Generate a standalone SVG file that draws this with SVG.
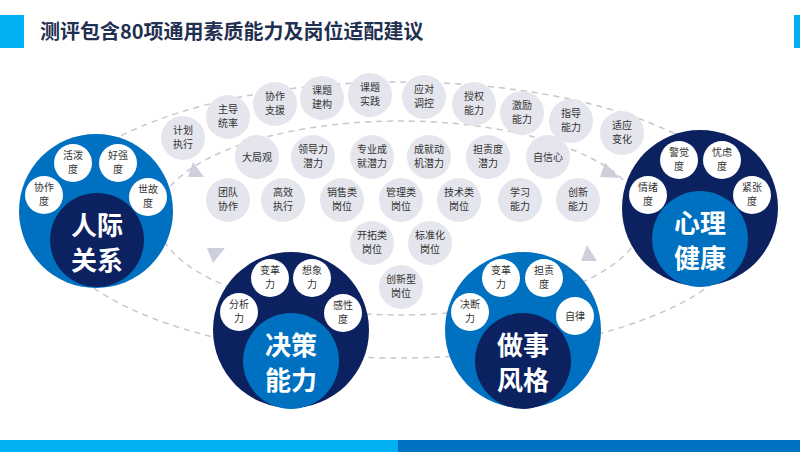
<svg xmlns="http://www.w3.org/2000/svg" width="800" height="452" viewBox="0 0 800 452">
<style>
text{font-family:"Noto Sans CJK SC","Liberation Sans",sans-serif;text-anchor:middle}
.b{fill:#e5e5ed}
.bt{font-size:10px;fill:#333}
.w{fill:#fff}
.wt{font-size:10px;fill:#333}
.big{font-size:26px;font-weight:bold;fill:#fff}
.d{fill:none;stroke:#c8c8cc;stroke-width:1.5;stroke-dasharray:6 5}
.ar{fill:#cdd0dc}
</style>
<rect width="800" height="452" fill="#fff"/>
<rect x="0" y="15" width="24" height="33" fill="#00b0f0"/>
<rect x="794" y="15" width="6" height="33" fill="#00b0f0"/>
<text x="40" y="39" style="font-size:20px;font-weight:bold;fill:#1f3050;text-anchor:start">测评包含80项通用素质能力及岗位适配建议</text>
<rect x="0" y="440" width="398" height="12" fill="#00b0f0"/>
<rect x="398" y="440" width="402" height="12" fill="#0070c0"/>
<g id="connectors">
<ellipse class="d" cx="400" cy="220" rx="352" ry="138"/>
<ellipse class="d" cx="400" cy="218" rx="243" ry="97"/>
<polygon class="ar" points="193,162 204,177 188,177"/>
<polygon class="ar" points="213,263 207,248 225,248"/>
<polygon class="ar" points="605,163 620,178 600,177"/>
<polygon class="ar" points="587,245 597,261 581,261"/>
</g>
<g id="bubbles">
<g><circle class="b" cx="183" cy="138" r="22"/><text class="bt" x="183" y="134">计划</text><text class="bt" x="183" y="148">执行</text></g>
<g><circle class="b" cx="228" cy="117" r="22"/><text class="bt" x="228" y="113">主导</text><text class="bt" x="228" y="127">统率</text></g>
<g><circle class="b" cx="275" cy="104" r="22"/><text class="bt" x="275" y="100">协作</text><text class="bt" x="275" y="114">支援</text></g>
<g><circle class="b" cx="322" cy="98" r="22"/><text class="bt" x="322" y="94">课题</text><text class="bt" x="322" y="108">建构</text></g>
<g><circle class="b" cx="370" cy="95" r="22"/><text class="bt" x="370" y="91">课题</text><text class="bt" x="370" y="105">实践</text></g>
<g><circle class="b" cx="424" cy="97" r="22"/><text class="bt" x="424" y="93">应对</text><text class="bt" x="424" y="107">调控</text></g>
<g><circle class="b" cx="474" cy="104" r="22"/><text class="bt" x="474" y="100">授权</text><text class="bt" x="474" y="114">能力</text></g>
<g><circle class="b" cx="522" cy="113" r="22"/><text class="bt" x="522" y="109">激励</text><text class="bt" x="522" y="123">能力</text></g>
<g><circle class="b" cx="571" cy="121" r="22"/><text class="bt" x="571" y="117">指导</text><text class="bt" x="571" y="131">能力</text></g>
<g><circle class="b" cx="622" cy="133" r="22"/><text class="bt" x="622" y="129">适应</text><text class="bt" x="622" y="143">变化</text></g>
<g><circle class="b" cx="257" cy="157" r="22"/><text class="bt" x="257" y="161">大局观</text></g>
<g><circle class="b" cx="313" cy="157" r="22"/><text class="bt" x="313" y="153">领导力</text><text class="bt" x="313" y="167">潜力</text></g>
<g><circle class="b" cx="372" cy="157" r="22"/><text class="bt" x="372" y="153">专业成</text><text class="bt" x="372" y="167">就潜力</text></g>
<g><circle class="b" cx="429" cy="157" r="22"/><text class="bt" x="429" y="153">成就动</text><text class="bt" x="429" y="167">机潜力</text></g>
<g><circle class="b" cx="488" cy="157" r="22"/><text class="bt" x="488" y="153">担责度</text><text class="bt" x="488" y="167">潜力</text></g>
<g><circle class="b" cx="548" cy="157" r="22"/><text class="bt" x="548" y="161">自信心</text></g>
<g><circle class="b" cx="228" cy="200" r="22"/><text class="bt" x="228" y="196">团队</text><text class="bt" x="228" y="210">协作</text></g>
<g><circle class="b" cx="283" cy="200" r="22"/><text class="bt" x="283" y="196">高效</text><text class="bt" x="283" y="210">执行</text></g>
<g><circle class="b" cx="342" cy="200" r="22"/><text class="bt" x="342" y="196">销售类</text><text class="bt" x="342" y="210">岗位</text></g>
<g><circle class="b" cx="401" cy="200" r="22"/><text class="bt" x="401" y="196">管理类</text><text class="bt" x="401" y="210">岗位</text></g>
<g><circle class="b" cx="459" cy="200" r="22"/><text class="bt" x="459" y="196">技术类</text><text class="bt" x="459" y="210">岗位</text></g>
<g><circle class="b" cx="520" cy="200" r="22"/><text class="bt" x="520" y="196">学习</text><text class="bt" x="520" y="210">能力</text></g>
<g><circle class="b" cx="578" cy="200" r="22"/><text class="bt" x="578" y="196">创新</text><text class="bt" x="578" y="210">能力</text></g>
<g><circle class="b" cx="372" cy="243" r="22"/><text class="bt" x="372" y="239">开拓类</text><text class="bt" x="372" y="253">岗位</text></g>
<g><circle class="b" cx="430" cy="243" r="22"/><text class="bt" x="430" y="239">标准化</text><text class="bt" x="430" y="253">岗位</text></g>
<g><circle class="b" cx="401" cy="287" r="22"/><text class="bt" x="401" y="283">创新型</text><text class="bt" x="401" y="297">岗位</text></g>
</g>
<g id="renji">
<circle cx="96" cy="211" r="77" fill="#0070c0"/>
<circle cx="97" cy="240" r="47" fill="#0b2160"/>
<text class="big" x="97" y="235">人际</text><text class="big" x="97" y="270">关系</text>
<circle class="w" cx="44" cy="195" r="19"/><text class="wt" x="44" y="191">协作</text><text class="wt" x="44" y="205">度</text>
<circle class="w" cx="73" cy="163" r="19"/><text class="wt" x="73" y="159">活泼</text><text class="wt" x="73" y="173">度</text>
<circle class="w" cx="118" cy="163" r="19"/><text class="wt" x="118" y="159">好强</text><text class="wt" x="118" y="173">度</text>
<circle class="w" cx="148" cy="197" r="19"/><text class="wt" x="148" y="193">世故</text><text class="wt" x="148" y="207">度</text>
</g>
<g id="juece">
<circle cx="291" cy="330" r="78" fill="#0b2160"/>
<circle cx="291" cy="361" r="48" fill="#0070c0"/>
<text class="big" x="291" y="355">决策</text><text class="big" x="291" y="390">能力</text>
<circle class="w" cx="270" cy="278" r="19"/><text class="wt" x="270" y="274">变革</text><text class="wt" x="270" y="288">力</text>
<circle class="w" cx="312" cy="278" r="19"/><text class="wt" x="312" y="274">想象</text><text class="wt" x="312" y="288">力</text>
<circle class="w" cx="239" cy="312" r="19"/><text class="wt" x="239" y="308">分析</text><text class="wt" x="239" y="322">力</text>
<circle class="w" cx="343" cy="313" r="19"/><text class="wt" x="343" y="309">感性</text><text class="wt" x="343" y="323">度</text>
</g>
<g id="zuoshi">
<circle cx="523" cy="330" r="78" fill="#0070c0"/>
<circle cx="523" cy="361" r="48" fill="#0b2160"/>
<text class="big" x="523" y="355">做事</text><text class="big" x="523" y="390">风格</text>
<circle class="w" cx="501" cy="278" r="19"/><text class="wt" x="501" y="274">变革</text><text class="wt" x="501" y="288">力</text>
<circle class="w" cx="544" cy="278" r="19"/><text class="wt" x="544" y="274">担责</text><text class="wt" x="544" y="288">度</text>
<circle class="w" cx="470" cy="312" r="19"/><text class="wt" x="470" y="308">决断</text><text class="wt" x="470" y="322">力</text>
<circle class="w" cx="575" cy="316" r="19"/><text class="wt" x="575" y="320">自律</text>
</g>
<g id="xinli">
<circle cx="700" cy="208" r="78" fill="#0b2160"/>
<circle cx="700" cy="239" r="48" fill="#0070c0"/>
<text class="big" x="700" y="233">心理</text><text class="big" x="700" y="268">健康</text>
<circle class="w" cx="679" cy="160" r="19"/><text class="wt" x="679" y="156">警觉</text><text class="wt" x="679" y="170">度</text>
<circle class="w" cx="722" cy="160" r="19"/><text class="wt" x="722" y="156">忧虑</text><text class="wt" x="722" y="170">度</text>
<circle class="w" cx="648" cy="195" r="19"/><text class="wt" x="648" y="191">情绪</text><text class="wt" x="648" y="205">度</text>
<circle class="w" cx="752" cy="195" r="19"/><text class="wt" x="752" y="191">紧张</text><text class="wt" x="752" y="205">度</text>
</g>
</svg>
